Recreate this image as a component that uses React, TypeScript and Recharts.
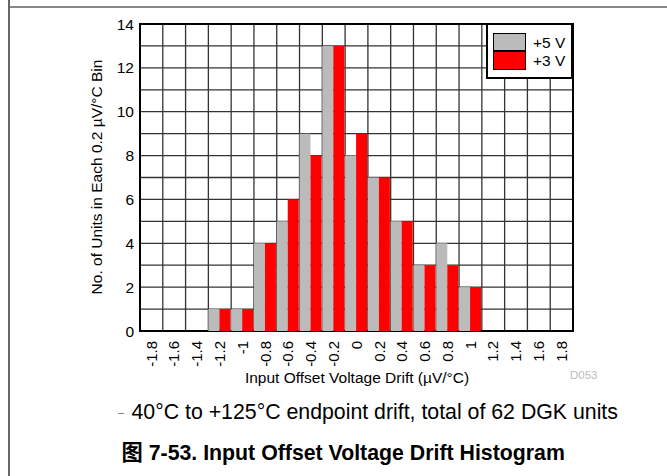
import React from 'react';
import {
  BarChart,
  Bar,
  XAxis,
  YAxis,
  CartesianGrid,
  Legend,
  ReferenceArea,
} from 'recharts';

// bins of 0.2 µV/°C
const bins = ['-1.8', '-1.6', '-1.4', '-1.2', '-1', '-0.8', '-0.6', '-0.4', '-0.2', '0', '0.2', '0.4', '0.6', '0.8', '1', '1.2', '1.4', '1.6', '1.8'];
const units5V = [0, 0, 0, 1, 1, 4, 5, 9, 13, 8, 7, 5, 3, 4, 2, 0, 0, 0, 0];
const units3V = [0, 0, 0, 1, 1, 4, 6, 8, 13, 9, 7, 5, 3, 3, 2, 0, 0, 0, 0];
const yTicks = [0, 1, 2, 3, 4, 5, 6, 7, 8, 9, 10, 11, 12, 13, 14];

const series = [
  { key: 'v5', name: '+5 V', color: '#BBBBBB' },
  { key: 'v3', name: '+3 V', color: '#FF0000' },
];

const chartData = bins.map((bin, i) => ({ bin, v5: units5V[i], v3: units3V[i] }));

const FONT = '"Liberation Sans", Arial, "Noto Sans CJK SC", sans-serif';

const XTick = ({ x, y, payload }: any) => (
  <text
    x={x}
    y={y}
    transform={`rotate(-90, ${x}, ${y})`}
    textAnchor="end"
    dy="0.35em"
    fontSize={15}
    fill="#000"
    fontFamily={FONT}
  >
    {payload.value}
  </text>
);

const LegendBox = () => (
  <div
    style={{
      position: 'relative',
      width: 87,
      height: 56,
      boxSizing: 'border-box',
      border: '2px solid #000',
      background: '#fff',
      fontFamily: FONT,
    }}
  >
    {series.map((s, i) => (
      <React.Fragment key={s.key}>
        <div
          style={{
            position: 'absolute',
            left: 5,
            top: 8 + i * 18,
            width: 33,
            height: 18 + i,
            boxSizing: 'border-box',
            border: '1px solid #000',
            background: s.color,
          }}
        />
        <div
          style={{
            position: 'absolute',
            left: 45,
            top: 9 + i * 18,
            fontSize: 15.5,
            lineHeight: '17px',
            color: '#000',
          }}
        >
          {s.name}
        </div>
      </React.Fragment>
    ))}
  </div>
);

export default function App() {
  return (
    <div style={{ position: 'absolute', left: 0, top: 0, width: 667, height: 476, background: '#fff', fontFamily: FONT }}>
      <BarChart
        width={667}
        height={400}
        data={chartData}
        margin={{ top: 24, right: 94, bottom: 0, left: 0 }}
        barCategoryGap={0}
        barGap={0}
      >
        <CartesianGrid
          stroke="#333"
          strokeWidth={1.3}
          verticalCoordinatesGenerator={({ offset }: any) =>
            Array.from({ length: bins.length + 1 }, (_, i) => offset.left + (i * offset.width) / bins.length)
          }
        />
        <XAxis
          dataKey="bin"
          interval={0}
          height={69}
          tickSize={0}
          tickMargin={10}
          axisLine={false}
          tick={<XTick />}
        />
        <YAxis
          width={140}
          domain={[0, 14]}
          ticks={yTicks}
          interval={0}
          tickSize={0}
          tickMargin={6}
          axisLine={false}
          tickFormatter={(v: number) => (v % 2 === 0 ? String(v) : '')}
          tick={{ fontSize: 15.5, fill: '#000', fontFamily: FONT }}
        />
        {series.map((s) => (
          <Bar key={s.key} dataKey={s.key} name={s.name} fill={s.color} isAnimationActive={false} />
        ))}
        <ReferenceArea
          x1={bins[0]}
          x2={bins[bins.length - 1]}
          y1={0}
          y2={14}
          fill="none"
          stroke="#000"
          strokeWidth={2}
          ifOverflow="visible"
        />
        <Legend
          layout="horizontal"
          verticalAlign="middle"
          align="center"
          content={<LegendBox />}
          wrapperStyle={{ position: 'absolute', top: 23, left: 486, width: 87, height: 56 }}
        />
      </BarChart>
      <svg
        width={667}
        height={476}
        style={{ position: 'absolute', left: 0, top: 0, pointerEvents: 'none' }}
        fontFamily={FONT}
      >
        <line x1={8} y1={7} x2={667} y2={7} stroke="#888" strokeWidth={2} />
        <line x1={9} y1={0} x2={9} y2={476} stroke="#666" strokeWidth={2} />
        <text
          x={97}
          y={177}
          transform="rotate(-90, 97, 177)"
          textAnchor="middle"
          dy="0.35em"
          fontSize={15.5}
          fill="#000"
        >
          No. of Units in Each 0.2 µV/°C Bin
        </text>
        <text x={357} y={383} textAnchor="middle" fontSize={15.5} fill="#000">
          Input Offset Voltage Drift (µV/°C)
        </text>
        <text x={570} y={379} fontSize={11.5} fill="#BBBBBB">
          D053
        </text>
        <text x={118} y={416} fontSize={11} fill="#666">
          –
        </text>
        <text x={131.5} y={419} fontSize={21.3} fill="#000">
          40°C to +125°C endpoint drift, total of 62 DGK units
        </text>
        <text x={121.5} y={460} fontSize={21.3} fontWeight="bold" fill="#000">
          图 7-53. Input Offset Voltage Drift Histogram
        </text>
      </svg>
    </div>
  );
}
